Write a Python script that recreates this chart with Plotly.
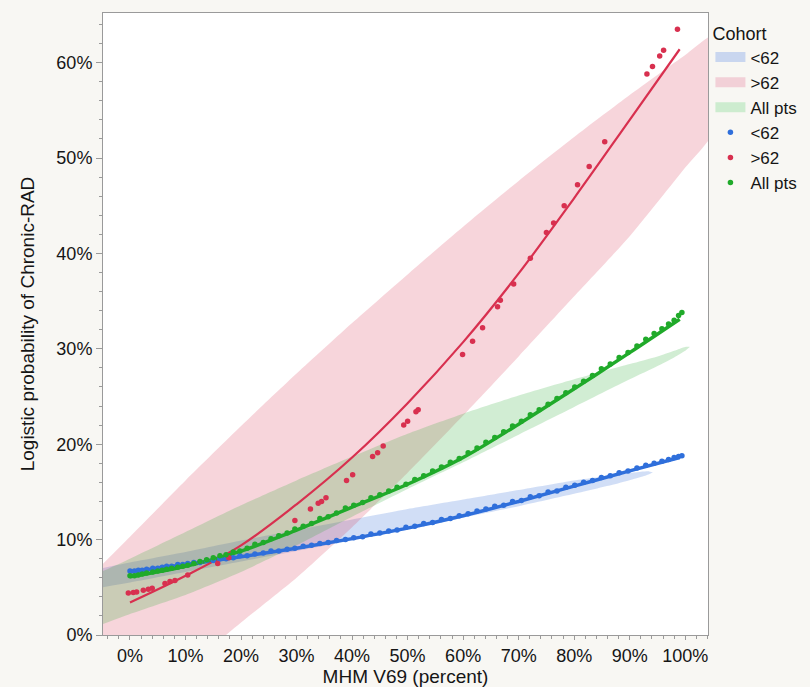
import plotly.graph_objects as go

# ---------------- data ----------------
# fitted logistic curves
fit_x = [0.0, 0.1, 0.2, 0.3, 0.4, 0.5, 0.6, 0.7, 0.8, 0.9, 0.99]
fit_lt62 = [0.066, 0.074, 0.082, 0.091, 0.101, 0.112, 0.125, 0.140, 0.156, 0.172, 0.186]
fit_gt62 = [0.034, 0.062, 0.094, 0.137, 0.186, 0.243, 0.307, 0.379, 0.458, 0.540, 0.614]
fit_all = [0.061, 0.072, 0.088, 0.110, 0.134, 0.158, 0.186, 0.221, 0.258, 0.296, 0.331]

# patient points, <62 and All pts
pts_x = [0.000, 0.008, 0.015, 0.022, 0.030, 0.041, 0.050, 0.058, 0.066, 0.075,
         0.086, 0.095, 0.104, 0.115, 0.126, 0.138, 0.150, 0.162, 0.173, 0.186,
         0.198, 0.211, 0.225, 0.240, 0.254, 0.268, 0.283, 0.297, 0.312, 0.327,
         0.342, 0.357, 0.372, 0.388, 0.403, 0.419, 0.434, 0.450, 0.466, 0.481,
         0.497, 0.513, 0.529, 0.545, 0.561, 0.577, 0.593, 0.609, 0.625, 0.641,
         0.657, 0.673, 0.689, 0.705, 0.721, 0.737, 0.753, 0.769, 0.785, 0.801,
         0.817, 0.833, 0.849, 0.865, 0.881, 0.897, 0.913, 0.929, 0.944, 0.958,
         0.970, 0.980, 0.988, 0.994]
pts_lt62 = [0.067, 0.067, 0.068, 0.068, 0.069, 0.070, 0.070, 0.071, 0.072, 0.072,
            0.074, 0.074, 0.075, 0.076, 0.076, 0.078, 0.078, 0.080, 0.080, 0.081,
            0.083, 0.083, 0.085, 0.086, 0.088, 0.088, 0.090, 0.091, 0.093, 0.094,
            0.096, 0.097, 0.099, 0.100, 0.102, 0.103, 0.106, 0.107, 0.109, 0.110,
            0.113, 0.114, 0.117, 0.118, 0.121, 0.122, 0.125, 0.127, 0.130, 0.132,
            0.135, 0.136, 0.140, 0.141, 0.145, 0.146, 0.150, 0.151, 0.155, 0.157,
            0.160, 0.162, 0.165, 0.167, 0.170, 0.172, 0.175, 0.178, 0.180, 0.182,
            0.184, 0.186, 0.187, 0.188]
pts_all = [0.062, 0.062, 0.063, 0.064, 0.065, 0.066, 0.067, 0.068, 0.069, 0.070,
           0.071, 0.072, 0.073, 0.075, 0.077, 0.079, 0.081, 0.083, 0.084, 0.087,
           0.088, 0.091, 0.095, 0.097, 0.101, 0.104, 0.107, 0.111, 0.114, 0.117,
           0.122, 0.124, 0.128, 0.133, 0.136, 0.139, 0.144, 0.147, 0.151, 0.155,
           0.158, 0.163, 0.167, 0.172, 0.176, 0.181, 0.185, 0.191, 0.196, 0.202,
           0.207, 0.213, 0.219, 0.224, 0.231, 0.236, 0.242, 0.248, 0.254, 0.260,
           0.266, 0.272, 0.279, 0.284, 0.291, 0.296, 0.303, 0.310, 0.316, 0.321,
           0.326, 0.330, 0.335, 0.338]

# patient points, >62
gt62_x = [-0.003, 0.006, 0.012, 0.024, 0.033, 0.040, 0.063, 0.072, 0.081, 0.104,
          0.158, 0.178, 0.297, 0.325, 0.339, 0.345, 0.353, 0.390, 0.401, 0.437,
          0.446, 0.456, 0.493, 0.500, 0.515, 0.519, 0.599, 0.617, 0.635, 0.662,
          0.667, 0.691, 0.721, 0.750, 0.763, 0.782, 0.806, 0.827, 0.855, 0.931,
          0.941, 0.954, 0.961, 0.986]
gt62_y = [0.044, 0.0445, 0.045, 0.047, 0.048, 0.049, 0.054, 0.056, 0.057, 0.063,
          0.075, 0.081, 0.120, 0.132, 0.138, 0.140, 0.144, 0.162, 0.168, 0.187,
          0.191, 0.198, 0.220, 0.224, 0.234, 0.236, 0.294, 0.308, 0.322, 0.344,
          0.351, 0.368, 0.395, 0.422, 0.432, 0.450, 0.472, 0.491, 0.517, 0.588,
          0.596, 0.607, 0.613, 0.635]

# shaded regions (upper / lower edges)
band_lt62_x = [-0.06, 0.0, 0.1, 0.2, 0.3, 0.4, 0.5, 0.6, 0.7, 0.8, 0.88, 0.92, 0.935, 0.942]
band_lt62_hi = [0.069, 0.076, 0.087, 0.099, 0.110, 0.121, 0.132, 0.142, 0.152, 0.162, 0.168, 0.171, 0.1715, 0.1705]
band_lt62_lo = [0.049, 0.055, 0.066, 0.077, 0.088, 0.099, 0.111, 0.123, 0.135, 0.148, 0.159, 0.1655, 0.1685, 0.1705]

band_gt62_x = [-0.06, 0.0, 0.1, 0.2, 0.3, 0.4, 0.5, 0.6, 0.7, 0.8, 0.9, 1.0, 1.05]
band_gt62_hi = [0.068, 0.103, 0.162, 0.219, 0.274, 0.327, 0.378, 0.428, 0.476, 0.522, 0.566, 0.608, 0.628]
band_gt62_lo = [-0.105, -0.080, -0.035, 0.013, 0.060, 0.113, 0.170, 0.230, 0.292, 0.355, 0.418, 0.490, 0.527]

band_all_x = [-0.06, 0.0, 0.1, 0.2, 0.3, 0.4, 0.5, 0.6, 0.7, 0.8, 0.9, 0.95, 0.98, 1.0, 1.008]
band_all_hi = [0.064, 0.080, 0.108, 0.136, 0.162, 0.187, 0.211, 0.232, 0.251, 0.268, 0.284, 0.292, 0.298, 0.302, 0.302]
band_all_lo = [0.009, 0.022, 0.042, 0.066, 0.094, 0.124, 0.153, 0.181, 0.210, 0.239, 0.268, 0.282, 0.291, 0.298, 0.302]

cohorts = ["<62", ">62", "All pts"]
x_ticks = [0.0, 0.1, 0.2, 0.3, 0.4, 0.5, 0.6, 0.7, 0.8, 0.9, 1.0]
y_ticks = [0.0, 0.1, 0.2, 0.3, 0.4, 0.5, 0.6]

# ---------------- styling ----------------
C_BLUE = "#2f6fdb"
C_RED = "#d8304f"
C_GREEN = "#20aa2a"
F_BLUE = "rgba(45,105,215,0.22)"
F_RED = "rgba(215,45,75,0.20)"
F_GREEN = "rgba(40,170,45,0.21)"
S_BLUE = "#c9d6ef"   # legend swatch (fill over white)
S_RED = "#f2d0d7"
S_GREEN = "#cdeccf"
FONT = "Liberation Sans, Arial, Helvetica, sans-serif"
TXT = "#151515"

fig = go.Figure()


def band(xs, hi, lo, fill, name):
    fig.add_trace(go.Scatter(
        x=list(xs) + list(xs)[::-1],
        y=list(hi) + list(lo)[::-1],
        fill="toself", fillcolor=fill, mode="lines",
        line=dict(width=0, color=fill, shape="spline", smoothing=0.6),
        name=name, hoverinfo="skip", showlegend=False,
    ))


band(band_lt62_x, band_lt62_hi, band_lt62_lo, F_BLUE, cohorts[0])
band(band_gt62_x, band_gt62_hi, band_gt62_lo, F_RED, cohorts[1])
band(band_all_x, band_all_hi, band_all_lo, F_GREEN, cohorts[2])

# legend swatches for the shaded regions
for nm, sw in zip(cohorts, [S_BLUE, S_RED, S_GREEN]):
    fig.add_trace(go.Scatter(x=[None], y=[None], mode="lines", name=nm,
                             line=dict(color=sw, width=17)))

for fy, col, w in [(fit_lt62, C_BLUE, 3.5), (fit_gt62, C_RED, 2.2), (fit_all, C_GREEN, 3.5)]:
    fig.add_trace(go.Scatter(x=fit_x, y=fy, mode="lines",
                             line=dict(color=col, width=w, shape="spline"),
                             showlegend=False, hoverinfo="skip"))

fig.add_trace(go.Scatter(x=pts_x, y=pts_lt62, mode="markers", name=cohorts[0],
                         marker=dict(color=C_BLUE, size=5.5)))
fig.add_trace(go.Scatter(x=gt62_x, y=gt62_y, mode="markers", name=cohorts[1],
                         marker=dict(color=C_RED, size=5.5)))
fig.add_trace(go.Scatter(x=pts_x, y=pts_all, mode="markers", name=cohorts[2],
                         marker=dict(color=C_GREEN, size=5.5)))

axis_common = dict(
    showgrid=False, zeroline=False, showline=True, linecolor="#9a9a9a",
    linewidth=1, mirror=True, ticks="outside", tickcolor="#9a9a9a",
    tickformat=".0%", tickfont=dict(family=FONT, size=18, color=TXT),
    title_font=dict(family=FONT, size=19, color=TXT),
    minor=dict(dtick=0.02, tick0=0, ticks="outside", ticklen=3, tickcolor="#9a9a9a"),
)

fig.update_xaxes(range=[-0.0486, 1.041], tickvals=x_ticks, ticklen=4, automargin=True,
                 title_text="MHM V69 (percent)", title_standoff=0, **axis_common)
fig.update_yaxes(range=[0, 0.652], tickvals=y_ticks, ticklen=6, automargin=True,
                 title_text="Logistic probability of Chronic-RAD", title_standoff=16,
                 **axis_common)

fig.update_layout(
    width=810, height=687,
    margin=dict(l=103, r=102, t=13, b=52, autoexpand=False),
    paper_bgcolor="#f8f7f3", plot_bgcolor="white",
    font=dict(family=FONT, size=17, color=TXT),
    legend=dict(
        title=dict(text="Cohort", font=dict(family=FONT, size=18, color=TXT)),
        x=1.004, y=0.995, xanchor="left", yanchor="top",
        bgcolor="rgba(0,0,0,0)", font=dict(family=FONT, size=17, color=TXT),
        tracegroupgap=0, itemwidth=30,
    ),
    showlegend=True,
)

fig.write_html("out.html")
